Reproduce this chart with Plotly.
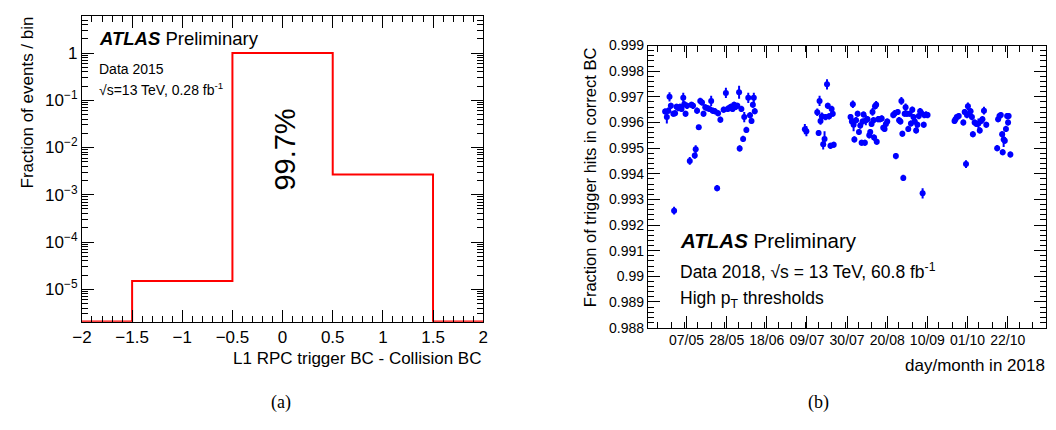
import numpy as np
import pandas as pd
import plotly.graph_objects as go

# ---- panel (a): BC difference histogram ----
bin_edges = [-2.5, -1.5, -0.5, 0.5, 1.5, 2.5]
bin_fraction = [0.0, 1.5e-5, 0.997, 2.7e-3, 0.0]

# ---- panel (b): fraction of trigger hits in correct BC per run ----
# days after 07/05/2018
run_day = [
    -11.2, -10.3, -9.5, -8.9, -8.2, -6.9, -6.5, -6.0, -5.2, -4.3, -3.4, -2.6, -1.7, -1.2, -0.5,
    0.3, 1.7, 2.6, 3.4, 4.3, 4.8, 5.5, 6.4, 7.2, 8.1, 8.9, 9.8, 10.8, 12.0, 12.9, 13.7, 14.8,
    16.0, 16.5, 17.7, 19.4, 20.6, 21.5, 22.3, 23.2, 24.1, 24.9, 25.8, 26.6, 27.5, 27.8, 28.7,
    29.6, 30.2, 31.3, 32.3, 33.2, 34.0, 34.7, 35.2, 35.7,
    61.9, 62.7, 68.4, 69.1, 69.6, 70.1, 70.8, 71.5, 72.2, 72.7, 73.5, 73.9, 74.6, 75.3, 75.9,
    76.5, 77.0,
    85.8, 86.5, 87.0, 87.4, 87.8, 88.7, 89.5, 90.2, 90.9, 91.6, 92.1, 92.6, 93.3, 93.8, 94.7,
    95.6, 96.1, 96.8, 97.3, 97.8, 98.1, 98.6, 99.2, 99.5, 100.2, 101.2, 102.1, 102.9, 103.6,
    104.3, 105.0,
    108.1, 108.8, 109.5, 110.5, 111.2, 111.9, 112.4, 112.9, 113.4, 114.1, 114.6, 115.3, 116.0,
    116.7, 117.4, 118.1, 118.7, 119.4, 120.1, 120.8, 121.5, 122.2, 122.7, 123.5, 124.1, 124.4,
    125.3, 126.1,
    140.2, 140.7, 141.4, 142.4, 144.8, 145.5, 146.2, 146.7, 147.2, 147.9, 148.6, 149.3, 149.8,
    150.7, 151.7, 152.7, 153.4, 154.1, 154.8, 155.6, 156.8,
    162.5, 163.0, 163.7, 164.4, 165.1, 165.4, 165.9, 166.5, 167.1, 167.7, 168.2, 168.5, 169.4,
]
fraction_ok = [
    0.99643, 0.99621, 0.99646, 0.99700, 0.99665, 0.99634, 0.99256, 0.99636, 0.99661, 0.99656,
    0.99661, 0.99653, 0.99696, 0.99671, 0.99634,
    0.99665, 0.99450, 0.99669, 0.99665, 0.99471, 0.99496, 0.99646, 0.99581, 0.99684, 0.99678,
    0.99634, 0.99659, 0.99656, 0.99653, 0.99684, 0.99646, 0.99644,
    0.99344, 0.99636, 0.99611, 0.99650, 0.99715, 0.99653, 0.99656, 0.99661, 0.99653, 0.99669,
    0.99661, 0.99665, 0.99718, 0.99499, 0.99653,
    0.99536, 0.99621, 0.99571, 0.99696, 0.99628, 0.99606, 0.99669, 0.99696, 0.99644,
    0.99574, 0.99566, 0.99640, 0.99559, 0.99684, 0.99606, 0.99624, 0.99515, 0.99536, 0.99621,
    0.99749, 0.99665, 0.99624, 0.99509, 0.99653, 0.99634, 0.99513,
    0.99621, 0.99604, 0.99671, 0.99591, 0.99534, 0.99609, 0.99634, 0.99563, 0.99588, 0.99521,
    0.99604, 0.99631, 0.99521, 0.99609, 0.99613, 0.99550, 0.99563, 0.99594, 0.99641, 0.99609,
    0.99541, 0.99663, 0.99669, 0.99525, 0.99613, 0.99613, 0.99616, 0.99579, 0.99575, 0.99594,
    0.99604,
    0.99629, 0.99634, 0.99469, 0.99641, 0.99609, 0.99604, 0.99684, 0.99556, 0.99384, 0.99634,
    0.99659, 0.99634, 0.99575, 0.99634, 0.99596, 0.99650, 0.99621, 0.99604, 0.99569, 0.99591,
    0.99625, 0.99644, 0.99638, 0.99324, 0.99591, 0.99629, 0.99631, 0.99629,
    0.99606, 0.99613, 0.99621, 0.99625, 0.99600, 0.99641, 0.99438, 0.99629, 0.99663, 0.99634,
    0.99644, 0.99621, 0.99554, 0.99600, 0.99594, 0.99596, 0.99569, 0.99606, 0.99613, 0.99646,
    0.99591,
    0.99500, 0.99613, 0.99625, 0.99629, 0.99554, 0.99484, 0.99534, 0.99529, 0.99575, 0.99625,
    0.99600, 0.99625, 0.99475,
]
fraction_err = [
    0.00012, 0.00025, 0.00012, 0.00018, 0.00012, 0.00012, 0.00015, 0.00012, 0.00012, 0.00012,
    0.00012, 0.00012, 0.00020, 0.00012, 0.00012,
    0.00012, 0.00015, 0.00012, 0.00012, 0.00012, 0.00015, 0.00012, 0.00010, 0.00012, 0.00012,
    0.00012, 0.00012, 0.00012, 0.00012, 0.00020, 0.00012, 0.00012,
    0.00012, 0.00012, 0.00012, 0.00012, 0.00020, 0.00012, 0.00012, 0.00012, 0.00012, 0.00012,
    0.00012, 0.00012, 0.00025, 0.00012, 0.00012,
    0.00012, 0.00020, 0.00012, 0.00020, 0.00012, 0.00012, 0.00012, 0.00020, 0.00012,
    0.00020, 0.00020, 0.00015, 0.00012, 0.00020, 0.00015, 0.00015, 0.00020, 0.00030, 0.00012,
    0.00020, 0.00012, 0.00012, 0.00012, 0.00012, 0.00012, 0.00012,
    0.00012, 0.00012, 0.00015, 0.00025, 0.00012, 0.00012, 0.00012, 0.00012, 0.00012, 0.00012,
    0.00012, 0.00012, 0.00012, 0.00020, 0.00012, 0.00012, 0.00012, 0.00012, 0.00015, 0.00012,
    0.00012, 0.00012, 0.00015, 0.00012, 0.00012, 0.00012, 0.00012, 0.00012, 0.00012, 0.00012,
    0.00012,
    0.00012, 0.00015, 0.00012, 0.00012, 0.00012, 0.00012, 0.00015, 0.00012, 0.00012, 0.00012,
    0.00015, 0.00012, 0.00012, 0.00012, 0.00012, 0.00012, 0.00012, 0.00012, 0.00012, 0.00012,
    0.00012, 0.00012, 0.00012, 0.00020, 0.00012, 0.00012, 0.00012, 0.00012,
    0.00012, 0.00012, 0.00012, 0.00012, 0.00012, 0.00012, 0.00015, 0.00012, 0.00015, 0.00012,
    0.00012, 0.00012, 0.00012, 0.00012, 0.00012, 0.00020, 0.00012, 0.00012, 0.00012, 0.00015,
    0.00012,
    0.00012, 0.00012, 0.00012, 0.00012, 0.00012, 0.00012, 0.00030, 0.00012, 0.00012, 0.00012,
    0.00012, 0.00012, 0.00012,
]

W, H = 1056, 430
FONT = "Liberation Sans, Arial, Helvetica, sans-serif"


def px_x(p):
    return p / W


def px_y(p):
    return 1 - p / H


# histogram: empty bins drawn on the frame floor like ROOT does
log_floor = -5.68
y_hist = [v if v > 0 else 10 ** log_floor for v in bin_fraction]
x_step = bin_edges
y_step = y_hist + [y_hist[-1]]

hist = go.Scatter(x=x_step, y=y_step, mode="lines", line=dict(color="#ff0000", width=2, shape="hv"),
                  xaxis="x", yaxis="y", showlegend=False, hoverinfo="skip")

dates = pd.Timestamp("2018-05-07") + pd.to_timedelta(run_day, unit="D")
points = go.Scatter(x=dates, y=fraction_ok, mode="markers", xaxis="x2", yaxis="y2", showlegend=False,
                    marker=dict(color="#0000ff", size=6),
                    error_y=dict(type="data", array=fraction_err, color="#0000ff", thickness=2, width=0))

log_major = [1e-5, 1e-4, 1e-3, 1e-2, 1e-1, 1]
log_text = ["10<sup>\u22125</sup>", "10<sup>\u22124</sup>", "10<sup>\u22123</sup>",
            "10<sup>\u22122</sup>", "10<sup>\u22121</sup>", "1"]
log_minor = [k * 10.0 ** e for e in range(-6, 1) for k in range(2, 10)]

x_major = [-2, -1.5, -1, -0.5, 0, 0.5, 1, 1.5, 2]
x_text = ["\u22122", "\u22121.5", "\u22121", "\u22120.5", "0", "0.5", "1", "1.5", "2"]

y2_major = [0.988, 0.989, 0.99, 0.991, 0.992, 0.993, 0.994, 0.995, 0.996, 0.997, 0.998, 0.999]
y2_text = ["0.988", "0.989", "0.99", "0.991", "0.992", "0.993", "0.994", "0.995", "0.996",
           "0.997", "0.998", "0.999"]

axis_common = dict(showline=True, linecolor="black", linewidth=1, mirror="ticks", ticks="inside",
                   tickcolor="black", showgrid=False, zeroline=False)

layout = go.Layout(
    width=W, height=H,
    paper_bgcolor="white", plot_bgcolor="white",
    margin=dict(l=0, r=0, t=0, b=0),
    font=dict(family=FONT, color="black"),
    showlegend=False,
    xaxis=dict(axis_common, domain=[px_x(73), px_x(480)], range=[-2, 2], anchor="y",
               tickvals=x_major, ticktext=x_text, ticklen=12, tickfont=dict(size=17),
               minor=dict(ticks="inside", ticklen=6, dtick=0.1, tick0=0, tickcolor="black")),
    yaxis=dict(axis_common, domain=[px_y(326), px_y(8)], type="log", range=[-5.69, 0.79], anchor="x",
               tickvals=log_major, ticktext=log_text, ticklen=12, tickfont=dict(size=17),
               minor=dict(ticks="inside", ticklen=6, tickvals=log_minor, tickcolor="black")),
    xaxis2=dict(axis_common, domain=[px_x(647), px_x(1051)], type="date", anchor="y2",
                range=["2018-04-16 18:00", "2018-11-11 02:00"],
                tick0="2018-05-07", dtick=21 * 86400000, tickformat="%d/%m", ticklen=12,
                tickfont=dict(size=14),
                minor=dict(ticks="inside", ticklen=6, dtick=7 * 86400000, tickcolor="black")),
    yaxis2=dict(axis_common, domain=[px_y(332), px_y(39)], range=[0.988, 0.999], anchor="x2",
                tickvals=y2_major, ticktext=y2_text, ticklen=12, tickfont=dict(size=14),
                minor=dict(ticks="inside", ticklen=6, dtick=0.0002, tick0=0.988, tickcolor="black")),
)

fig = go.Figure(data=[hist, points], layout=layout)


def label(x, y, text, size, xanchor="left", yanchor="middle", angle=0, family=FONT):
    fig.add_annotation(x=px_x(x), y=px_y(y), xref="paper", yref="paper", text=text, showarrow=False,
                       xanchor=xanchor, yanchor=yanchor, textangle=angle,
                       font=dict(size=size, family=family, color="black"))


# panel (a) texts
label(18, 7, "Fraction of events / bin", 17, xanchor="center", yanchor="top", angle=-90)
label(480, 364, "L1 RPC trigger BC - Collision BC", 17, xanchor="right")
label(88, 32, "<b><i>ATLAS</i></b> Preliminary", 18.5)
label(88, 63, "Data 2015", 14)
label(88, 84, "\u221as=13 TeV, 0.28 fb<sup>-1</sup>", 14)
label(278, 147, "99.7%", 29, xanchor="center", angle=-90)
label(275, 410, "(a)", 18, xanchor="center", family="Liberation Serif, Times New Roman, serif")

# panel (b) texts
label(588, 39, "Fraction of trigger hits in correct BC", 16.5, xanchor="center", yanchor="top", angle=-90)
label(1052, 371, "day/month in 2018", 17, xanchor="right")
label(678, 242, "<b><i>ATLAS</i></b> Preliminary", 20.5)
label(678, 273, "Data 2018, \u221as = 13 TeV, 60.8 fb<sup>-1</sup>", 17.5)
label(678, 303, "High p<sub>T</sub> thresholds", 17.5)
label(820, 410, "(b)", 18, xanchor="center", family="Liberation Serif, Times New Roman, serif")

# the page body has a default margin; drop it so the figure fills the window
fig.write_html("out.html", config={"displayModeBar": False},
               post_script="document.body.style.margin='0';")
